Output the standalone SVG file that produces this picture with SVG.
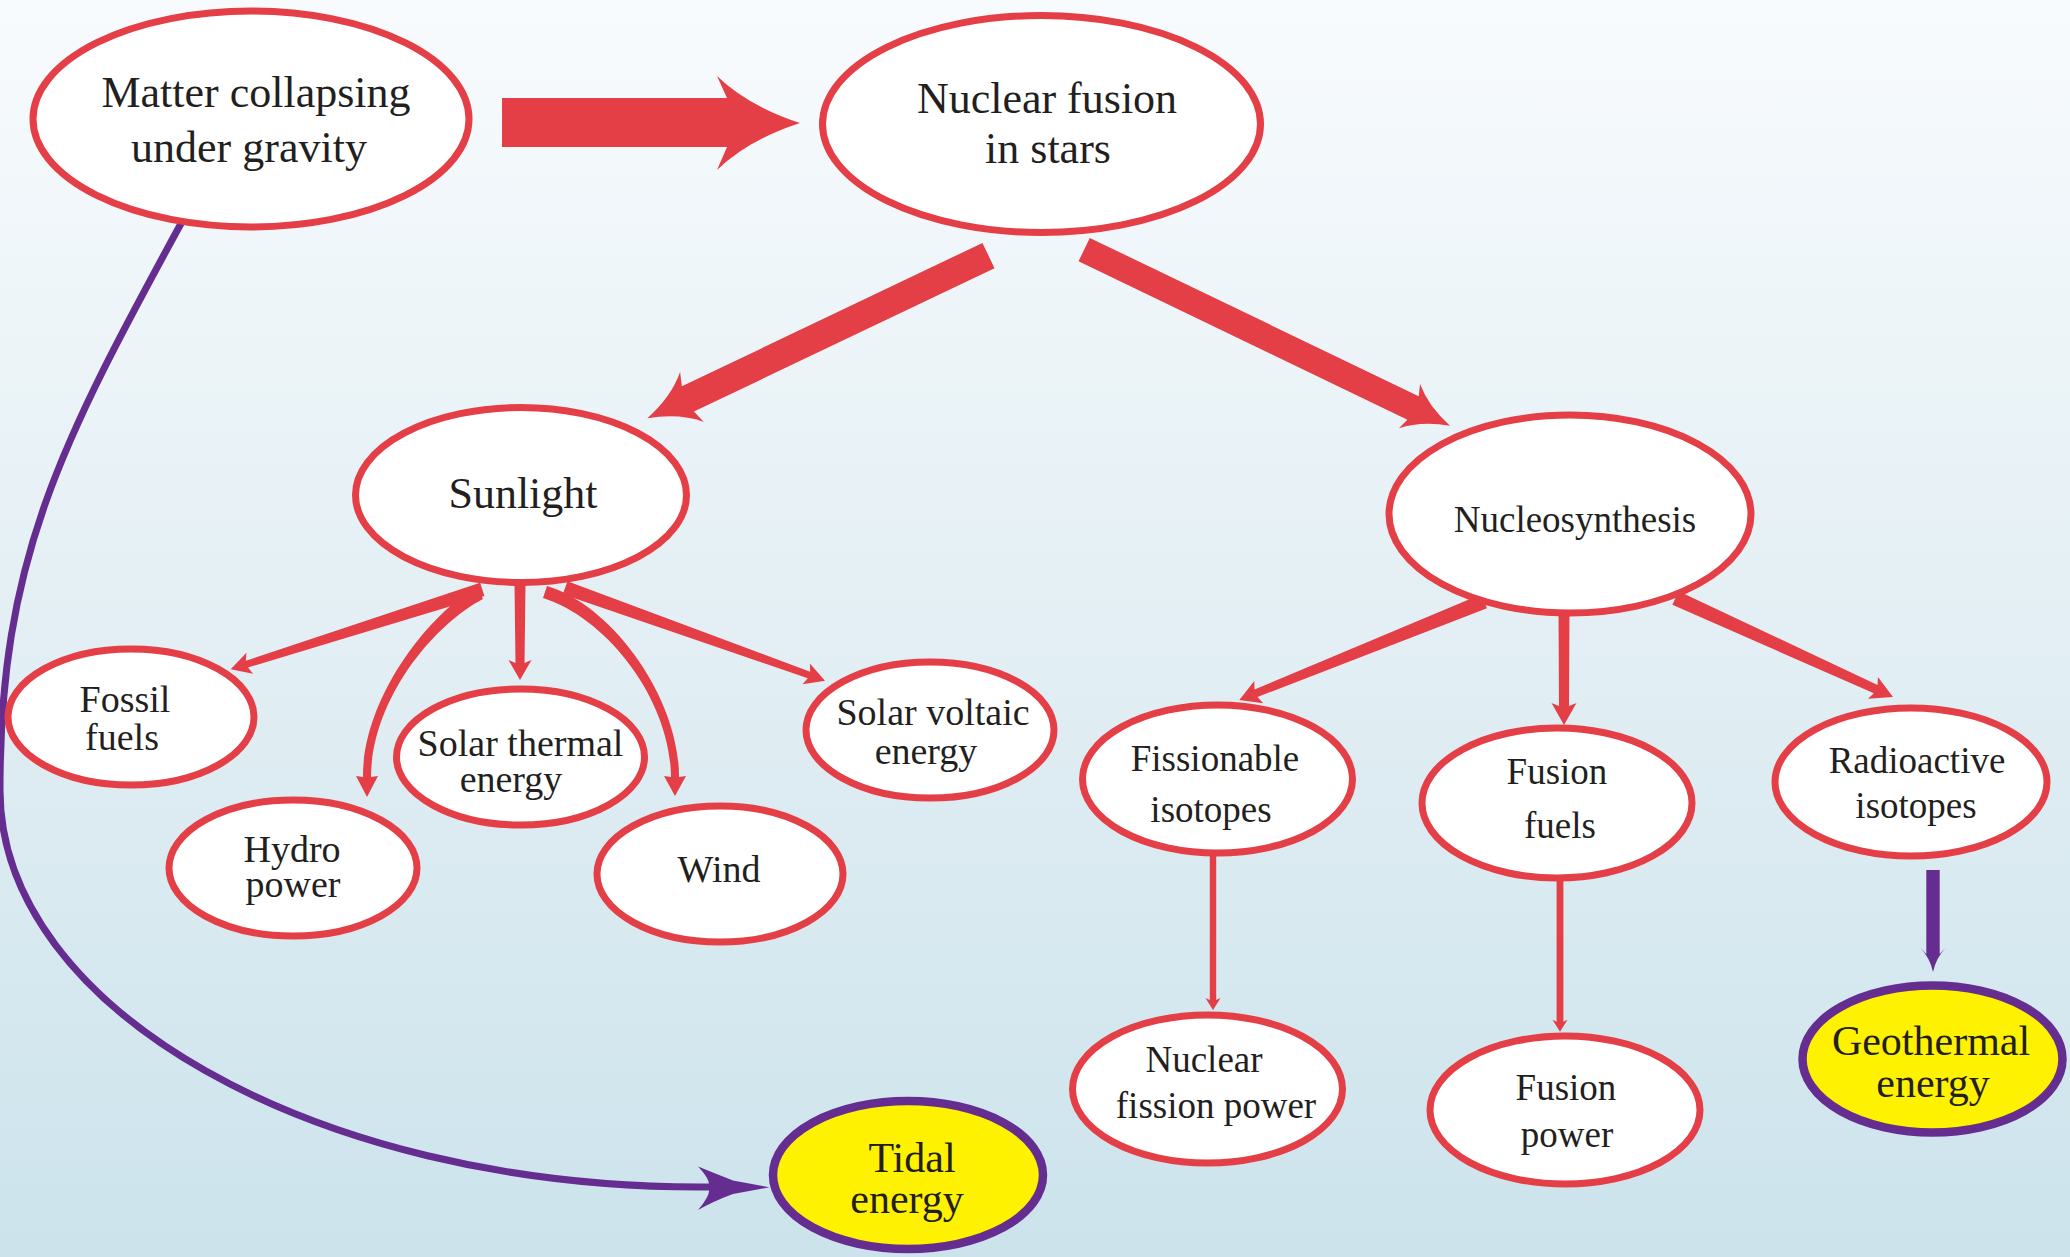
<svg xmlns="http://www.w3.org/2000/svg" width="2070" height="1257" viewBox="0 0 2070 1257">
<defs>
<linearGradient id="bg" x1="0" y1="0" x2="0" y2="1">
<stop offset="0" stop-color="#f8fbfd"/>
<stop offset="0.5" stop-color="#e3eff4"/>
<stop offset="1" stop-color="#cce3ec"/>
</linearGradient>
<style>
.red{fill:#e43e46}
.purple{fill:#662d91}
.pline{fill:none;stroke:#662d91;stroke-width:7}
.node ellipse{fill:#ffffff;stroke:#e43e46;stroke-width:7}
.node.yellow ellipse{fill:#fff200;stroke:#662d91;stroke-width:8.5}
text{font-family:"Liberation Serif","Times New Roman",serif;fill:#231f20;text-anchor:middle}
.f44{font-size:44px}
.f42{font-size:42px}
.f38{font-size:38px}
.f37{font-size:37px}
</style>
</defs>
<rect x="0" y="0" width="2070" height="1257" fill="url(#bg)"/>
<g id="connectors">
<path id="c-matter-fusion" class="red" d="M502,98 L727,98 L717,76 Q748,106 800,123 Q748,140 717,170 L727,147 L502,147 Z"/>
<path id="c-fusion-sunlight" class="red" transform="translate(647.3,418.3) rotate(154.5)" d="M-378,-14 L-45,-14 L-49.5,-27.6 Q-31,-9 0,0 Q-31,9 -49.5,27.6 L-45,14 L-378,14 Z"/>
<path id="c-fusion-nucleo" class="red" transform="translate(1450,425.7) rotate(25.7)" d="M-406,-13 L-41,-13 L-45,-24.5 Q-28,-8 0,0 Q-28,8 -45,24.5 L-41,13 L-406,13 Z"/>
<path id="c-sun-fossil" class="red" transform="translate(230.7,669.3) rotate(162.36)" d="M-264,-7 L-17,-3.5 L-20,-11 L0,0 L-20,11 L-17,3.5 L-264,7 Z"/>
<path id="c-sun-thermal" class="red" transform="translate(520,680) rotate(90)" d="M-95,-5.5 L-17,-4.5 L-20,-11.5 L0,0 L-20,11.5 L-17,4.5 L-95,5.5 Z"/>
<path id="c-sun-voltaic" class="red" transform="translate(825,680.7) rotate(19.68)" d="M-276,-7 L-17,-3.5 L-20,-11 L0,0 L-20,11 L-17,3.5 L-276,7 Z"/>
<path id="c-sun-hydro" class="red" d="M477,587 C427,615 362.5,700 363,777 L356,776 L367,797 L378,776 L371,777 C371.5,700 433,625 483,599 Z"/>
<path id="c-sun-wind" class="red" d="M547,586 C614,606 679.5,700 679,777 L686,776 L675,796 L664,776 L671,777 C670.5,700 607,618 543,598 Z"/>
<path id="c-nucleo-fission" class="red" transform="translate(1239.3,700) rotate(158.05)" d="M-264,-7.5 L-18,-4 L-21,-12 L0,0 L-21,12 L-18,4 L-264,7.5 Z"/>
<path id="c-nucleo-fusionfuels" class="red" transform="translate(1564,725) rotate(90)" d="M-118,-5.5 L-19,-5 L-22,-12.5 L0,0 L-22,12.5 L-19,5 L-118,5.5 Z"/>
<path id="c-nucleo-radio" class="red" transform="translate(1893,697) rotate(24.48)" d="M-239,-7.5 L-19,-4.5 L-22,-12 L0,0 L-22,12 L-19,4.5 L-239,7.5 Z"/>
<path id="c-fission-power" class="red" transform="translate(1213,1010) rotate(90)" d="M-160,-3.2 L-10,-3.2 L-12,-7.5 L0,0 L-12,7.5 L-10,3.2 L-160,3.2 Z"/>
<path id="c-fusionfuels-power" class="red" transform="translate(1560,1031.7) rotate(90)" d="M-156,-3.4 L-10,-3.4 L-12,-7.5 L0,0 L-12,7.5 L-10,3.4 L-156,3.4 Z"/>
<path id="c-radio-geo" class="purple" d="M1926.3,870 L1939.7,870 L1939.7,954 L1945.5,948 Q1936,958 1933,972 Q1930,958 1920.5,948 L1926.3,954 Z"/>
<path id="c-matter-tidal" class="pline" d="M184,218 C60,445 0,560 0,790 C0,1008.7 313.4,1187 700,1187 L735,1187"/>
<path id="c-matter-tidal-head" class="purple" d="M769.5,1187.3 L733,1180.5 Q714,1173 698,1166.5 Q711,1180 709,1187.3 Q711,1195 698,1210 Q714,1201 733,1194 Z"/>
</g>
<g id="n-matter" class="node"><ellipse cx="251" cy="119" rx="218" ry="108"/><text class="f44" x="256" y="107">Matter collapsing</text><text class="f44" x="249" y="162">under gravity</text></g>
<g id="n-fusion-stars" class="node"><ellipse cx="1041.5" cy="124" rx="219" ry="108.5"/><text class="f44" x="1047" y="113">Nuclear fusion</text><text class="f44" x="1048" y="163">in stars</text></g>
<g id="n-sunlight" class="node"><ellipse cx="521" cy="495" rx="165.5" ry="87.5"/><text class="f44" x="523" y="508">Sunlight</text></g>
<g id="n-nucleo" class="node"><ellipse cx="1570" cy="514" rx="181" ry="99"/><text class="f37" x="1575" y="532">Nucleosynthesis</text></g>
<g id="n-fossil" class="node"><ellipse cx="131" cy="717" rx="123" ry="68"/><text class="f38" x="125" y="712">Fossil</text><text class="f38" x="122" y="750">fuels</text></g>
<g id="n-hydro" class="node"><ellipse cx="293" cy="868" rx="124" ry="68"/><text class="f38" x="292" y="862">Hydro</text><text class="f38" x="293" y="897">power</text></g>
<g id="n-thermal" class="node"><ellipse cx="520.5" cy="757" rx="124" ry="68"/><text class="f38" x="520.5" y="756">Solar thermal</text><text class="f38" x="511" y="792">energy</text></g>
<g id="n-wind" class="node"><ellipse cx="720" cy="874" rx="123" ry="68"/><text class="f38" x="719" y="882">Wind</text></g>
<g id="n-voltaic" class="node"><ellipse cx="930" cy="730" rx="124" ry="68"/><text class="f38" x="933" y="725">Solar voltaic</text><text class="f38" x="926" y="764">energy</text></g>
<g id="n-fissionable" class="node"><ellipse cx="1217.5" cy="779" rx="135" ry="74"/><text class="f37" x="1215" y="771">Fissionable</text><text class="f37" x="1211" y="822">isotopes</text></g>
<g id="n-fusionfuels" class="node"><ellipse cx="1557" cy="803" rx="135" ry="75"/><text class="f37" x="1557" y="784">Fusion</text><text class="f37" x="1560" y="838">fuels</text></g>
<g id="n-radioactive" class="node"><ellipse cx="1911" cy="782" rx="136" ry="74"/><text class="f37" x="1917" y="773">Radioactive</text><text class="f37" x="1916" y="818">isotopes</text></g>
<g id="n-fissionpower" class="node"><ellipse cx="1207.5" cy="1089" rx="135" ry="74"/><text class="f37" x="1204" y="1072">Nuclear</text><text class="f37" x="1216" y="1118">fission power</text></g>
<g id="n-fusionpower" class="node"><ellipse cx="1565" cy="1110" rx="135" ry="74"/><text class="f37" x="1566" y="1100">Fusion</text><text class="f37" x="1567" y="1147">power</text></g>
<g id="n-geothermal" class="node yellow"><ellipse cx="1932.5" cy="1059" rx="130" ry="73.5"/><text class="f42" x="1931" y="1055">Geothermal</text><text class="f42" x="1933" y="1097">energy</text></g>
<g id="n-tidal" class="node yellow"><ellipse cx="908" cy="1175" rx="135" ry="74"/><text class="f42" x="912" y="1172">Tidal</text><text class="f42" x="907" y="1213">energy</text></g>
</svg>
